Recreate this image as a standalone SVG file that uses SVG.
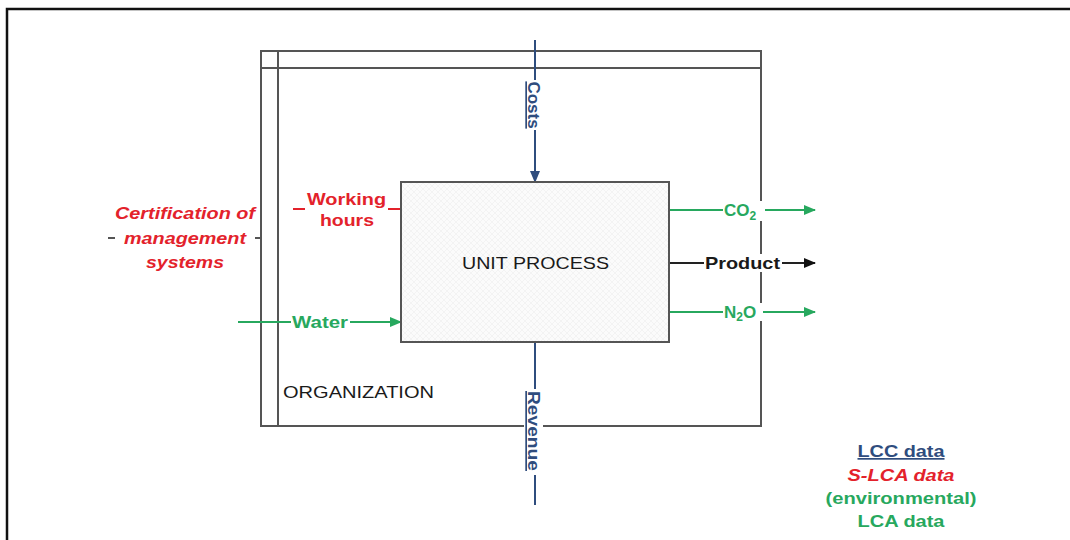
<svg xmlns="http://www.w3.org/2000/svg" width="1070" height="540" viewBox="0 0 1070 540">
<style>
text{font-family:"Liberation Sans",Arial,sans-serif;font-size:17px}
.b{font-weight:bold}
.red{fill:#e3222b;font-weight:bold;font-style:italic}
.redn{fill:#e3222b;font-weight:bold}
.grn{fill:#27a85e;font-weight:bold}
.blu{fill:#2f4d7e;font-weight:bold;text-decoration:underline}
.blk{fill:#1a1a1a}
.frame{fill:none;stroke:#555;stroke-width:2}
.lg{stroke:#27a85e;stroke-width:2;fill:none}
.lb{stroke:#2f4d7e;stroke-width:2;fill:none}
.lk{stroke:#222;stroke-width:2;fill:none}
.lr{stroke:#e3222b;stroke-width:2;fill:none}
</style>
<defs>
<marker id="ag" markerWidth="12" markerHeight="10" refX="11" refY="5" orient="auto" markerUnits="userSpaceOnUse"><path d="M0,0 L12,5 L0,10 Z" fill="#27a85e"/></marker>
<marker id="ak" markerWidth="12" markerHeight="10" refX="11" refY="5" orient="auto" markerUnits="userSpaceOnUse"><path d="M0,0 L12,5 L0,10 Z" fill="#111"/></marker>
<marker id="ab" markerWidth="12" markerHeight="10" refX="11" refY="5" orient="auto" markerUnits="userSpaceOnUse"><path d="M0,0 L12,5 L0,10 Z" fill="#2f4d7e"/></marker>
<pattern id="hatch" width="6" height="6" patternUnits="userSpaceOnUse">
<rect width="6" height="6" fill="#fbfbfb"/>
<path d="M0,0 L6,6 M6,0 L0,6" stroke="#efefef" stroke-width="0.6"/>
</pattern>
</defs>
<rect width="1070" height="540" fill="#fff"/>
<rect x="7" y="9" width="1080" height="560" fill="none" stroke="#111" stroke-width="2.5"/>

<g id="organization">
<rect class="frame" x="261" y="51" width="500" height="375"/>
<line class="frame" x1="261" y1="68" x2="761" y2="68"/>
<line class="frame" x1="278" y1="51" x2="278" y2="426"/>
<text class="blk" x="283" y="398" textLength="151" lengthAdjust="spacingAndGlyphs">ORGANIZATION</text>
</g>

<g id="connectors">
<line class="lb" x1="535" y1="40" x2="535" y2="182" marker-end="url(#ab)"/>
<line class="lb" x1="535" y1="343" x2="535" y2="505"/>
<line class="lg" x1="238" y1="322" x2="401" y2="322" marker-end="url(#ag)"/>
<line class="lg" x1="670" y1="210" x2="815" y2="210" marker-end="url(#ag)"/>
<line class="lk" x1="670" y1="263" x2="815" y2="263" marker-end="url(#ak)"/>
<line class="lg" x1="670" y1="312" x2="815" y2="312" marker-end="url(#ag)"/>
<line class="lr" x1="293" y1="209" x2="305" y2="209"/>
<line class="lr" x1="388" y1="209" x2="401" y2="209"/>
<line stroke="#555" stroke-width="2" x1="108" y1="238" x2="115" y2="238"/>
<line stroke="#555" stroke-width="2" x1="255" y1="238" x2="262" y2="238"/>
</g>

<g id="unit-process">
<rect x="401" y="182" width="268" height="160" fill="url(#hatch)" stroke="#555" stroke-width="2"/>
<text class="blk" x="462" y="269" textLength="147" lengthAdjust="spacingAndGlyphs">UNIT PROCESS</text>
</g>

<g id="label-costs">
<rect x="524" y="80" width="19" height="50" fill="#fff"/>
<text class="blu" transform="translate(528,105) rotate(90)" x="0" y="0" text-anchor="middle">Costs</text>
</g>
<g id="label-revenue">
<rect x="524" y="389" width="19" height="86" fill="#fff"/>
<text class="blu" transform="translate(528,431) rotate(90)" x="0" y="0" text-anchor="middle" textLength="80" lengthAdjust="spacingAndGlyphs">Revenue</text>
</g>
<g id="label-working-hours">
<text class="redn" x="307" y="205" textLength="79" lengthAdjust="spacingAndGlyphs">Working</text>
<text class="redn" x="320" y="226" textLength="54" lengthAdjust="spacingAndGlyphs">hours</text>
</g>
<g id="label-certification">
<text class="red" x="115" y="219" textLength="140" lengthAdjust="spacingAndGlyphs">Certification of</text>
<text class="red" x="124" y="244" textLength="122" lengthAdjust="spacingAndGlyphs">management</text>
<text class="red" x="146" y="268" textLength="78" lengthAdjust="spacingAndGlyphs">systems</text>
</g>
<g id="label-water">
<rect x="291" y="313" width="59" height="18" fill="#fff"/>
<text class="grn" x="292" y="328" textLength="56" lengthAdjust="spacingAndGlyphs">Water</text>
</g>
<g id="label-co2">
<rect x="723" y="201" width="42" height="20" fill="#fff"/>
<text class="grn" x="724" y="216" font-size="18">CO<tspan font-size="12" dy="4">2</tspan></text>
</g>
<g id="label-product">
<rect x="704" y="254" width="78" height="18" fill="#fff"/>
<text class="b blk" x="705" y="269" textLength="75" lengthAdjust="spacingAndGlyphs">Product</text>
</g>
<g id="label-n2o">
<rect x="723" y="303" width="40" height="18" fill="#fff"/>
<text class="grn" x="724" y="318" font-size="18">N<tspan font-size="12" dy="3">2</tspan><tspan dy="-3">O</tspan></text>
</g>

<g id="legend">
<text class="blu" x="901" y="457" text-anchor="middle" textLength="87" lengthAdjust="spacingAndGlyphs">LCC data</text>
<text class="red" x="901" y="481" text-anchor="middle" textLength="107" lengthAdjust="spacingAndGlyphs">S-LCA data</text>
<text class="grn" x="901" y="504" text-anchor="middle" textLength="151" lengthAdjust="spacingAndGlyphs">(environmental)</text>
<text class="grn" x="901" y="527" text-anchor="middle" textLength="87" lengthAdjust="spacingAndGlyphs">LCA data</text>
</g>
</svg>
